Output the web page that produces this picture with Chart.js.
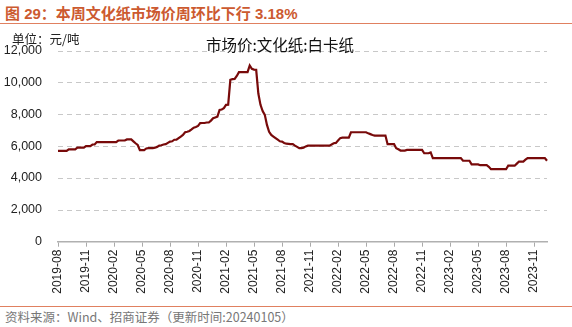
<!DOCTYPE html>
<html>
<head>
<meta charset="utf-8">
<script src="https://cdn.jsdelivr.net/npm/chart.js@4.4.1/dist/chart.umd.min.js"></script>
<style>
  html, body { margin: 0; padding: 0; background: #fff; }
  body { width: 572px; height: 327px; position: relative; overflow: hidden;
         font-family: "Liberation Sans", "Noto Sans CJK SC", sans-serif; }
  #head { position: absolute; left: 5px; top: 2px; font-size: 15px; font-weight: bold;
          color: #cc5a30; white-space: nowrap; }
  #headLine { position: absolute; left: 0; top: 23px; width: 572px; height: 1px; background: #e08060; }
  #unit { position: absolute; left: 12px; top: 29px; font-size: 12.5px; color: #222;
          font-family: "Noto Sans CJK SC", sans-serif; }
  #chartTitle { position: absolute; left: 180px; width: 200px; top: 33px; text-align: center;
                font-size: 15.5px; color: #111; font-family: "Noto Sans CJK SC", sans-serif; }
  #box { position: absolute; left: 0; top: 30px; width: 572px; height: 275px; }
  #footLine { position: absolute; left: 0; top: 306px; width: 572px; height: 1px; background: #e08060; }
  #source { position: absolute; left: 5px; top: 307px; font-size: 12.5px; color: #777; white-space: nowrap;
            font-family: "Noto Sans CJK SC", sans-serif; }
</style>
</head>
<body>
<div id="head">图 29：本周文化纸市场价周环比下行 3.18%</div>
<div id="headLine"></div>
<div id="box"><canvas id="myChart"></canvas></div>
<div id="unit">单位：元/吨</div>
<div id="chartTitle">市场价:文化纸:白卡纸</div>
<div id="footLine"></div>
<div id="source">资料来源：Wind、招商证券（更新时间:20240105）</div>

<script>
// weekly white card board price, yuan/ton, one value per Friday
const firstWeek = '2019-08-30'
const price2019 = [5700, 5700, 5700, 5700, 5700, 5800, 5800, 5800, 5800, 5900, 5900, 5900, 5900,
    6000, 6000, 6000, 6100, 6100]
const price2020 = [6250, 6250, 6250, 6250, 6250, 6250, 6250, 6250, 6250, 6250, 6350, 6350, 6350,
    6350, 6420, 6420, 6420, 6300, 6180, 6070, 5750, 5750, 5750, 5850, 5870, 5870,
    5870, 5900, 5950, 6030, 6050, 6100, 6120, 6200, 6280, 6300, 6400, 6400, 6500,
    6600, 6700, 6870, 6900, 6950, 7050, 7160, 7200, 7270, 7440, 7450, 7450, 7480]
const price2021 = [7480, 7600, 7750, 7800, 7850, 8270, 8300, 8380, 8590, 8600,
    10160, 10200, 10220, 10400, 10640, 10640, 10640, 10640, 10640,
    11060, 10850, 10800, 10790,
    9300, 8590, 8200, 7960, 7330, 6900, 6700, 6600, 6500, 6400, 6300, 6280, 6200,
    6150, 6140, 6120, 6120, 6030, 5950, 5870, 5870, 5900, 5980,
    6030, 6030, 6030, 6030, 6030, 6030, 6030]
const price2022 = [6030, 6030, 6030, 6030, 6100, 6180, 6200, 6350, 6500, 6530, 6530, 6530, 6530,
    6870, 6870, 6870, 6870, 6870, 6870, 6870, 6870, 6800, 6750, 6700,
    6660, 6660, 6660, 6660, 6660, 6660, 6120, 6120, 6120, 6120, 5870, 5800,
    5720, 5720, 5720, 5760, 5760, 5760, 5760, 5760, 5760, 5760, 5760,
    5550, 5550, 5550, 5600, 5250]
const price2023 = [5250, 5250, 5250, 5250, 5250, 5250, 5250, 5250, 5250, 5250, 5250, 5250, 5250,
    5080, 5080, 5080, 5080, 4850, 4850, 4850, 4850, 4800, 4800, 4800, 4800, 4700,
    4550, 4550, 4550, 4550, 4550, 4550, 4550, 4550, 4770, 4770, 4770, 4770, 4900,
    5030, 5030, 5030, 5150, 5250, 5250, 5250, 5250, 5250, 5250, 5250, 5250, 5250]
const price2024 = [5083]

const prices = [].concat(price2019, price2020, price2021, price2022, price2023, price2024)

// one label per week, starting from firstWeek
const weeks = prices.map((p, i) => {
    const d = new Date(firstWeek + 'T00:00:00Z')
    d.setUTCDate(d.getUTCDate() + i * 7)
    return d.toISOString().slice(0, 10)
})

const FONT = '"Liberation Sans", Arial, sans-serif'

// dashed horizontal grid, drawn under the line
const dashedGrid = {
    id: 'dashedGrid',
    beforeDatasetsDraw(chart) {
        const { ctx, chartArea, scales } = chart
        ctx.save()
        ctx.strokeStyle = '#c8c8c8'
        ctx.lineWidth = 1
        ctx.setLineDash([5, 4])
        scales.y.ticks.forEach(t => {
            if (t.value === 0) return
            const y = Math.round(scales.y.getPixelForValue(t.value)) + 0.5
            ctx.beginPath()
            ctx.moveTo(chartArea.left, y)
            ctx.lineTo(chartArea.right, y)
            ctx.stroke()
        })
        ctx.restore()
    }
}

var ctx = document.getElementById('myChart').getContext('2d')
new Chart(ctx, {
    type: 'line',
    data: {
        labels: weeks,
        datasets: [{
            label: '市场价:文化纸:白卡纸',
            data: prices,
            borderColor: '#780a0a',
            borderWidth: 2.2,
            pointRadius: 0,
            tension: 0,
        }]
    },
    plugins: [dashedGrid],
    options: {
        responsive: true,
        maintainAspectRatio: false,
        animation: false,
        layout: { padding: { left: 0, right: 25, top: 20.5, bottom: 0 } },
        plugins: {
            legend: { display: false },
            tooltip: { enabled: false },
            title: { display: false }
        },
        scales: {
            x: {
                // every 13th week gets a tick, roughly one per quarter
                afterBuildTicks: axis => {
                    axis.ticks = axis.ticks.filter(t => t.value % 13 === 0)
                },
                afterFit: axis => { axis.height = 63.3 },
                grid: { drawOnChartArea: false, drawTicks: true, tickLength: 5, color: '#aaa' },
                border: { color: '#b0b0b0', width: 1.5 },
                ticks: {
                    autoSkip: false,
                    minRotation: 90,
                    maxRotation: 90,
                    padding: 3,
                    color: '#222',
                    font: { family: FONT, size: 12 },
                    callback: function (v) { return weeks[v].slice(0, 7) }
                }
            },
            y: {
                min: 0,
                max: 12000,
                afterFit: axis => { axis.width = 58 },
                ticks: {
                    stepSize: 2000,
                    padding: 8,
                    color: '#222',
                    font: { family: FONT, size: 12.5 },
                    callback: v => v.toLocaleString('en-US')
                },
                grid: { display: false },
                border: { display: false }
            }
        }
    }
})
</script>
</body>
</html>
